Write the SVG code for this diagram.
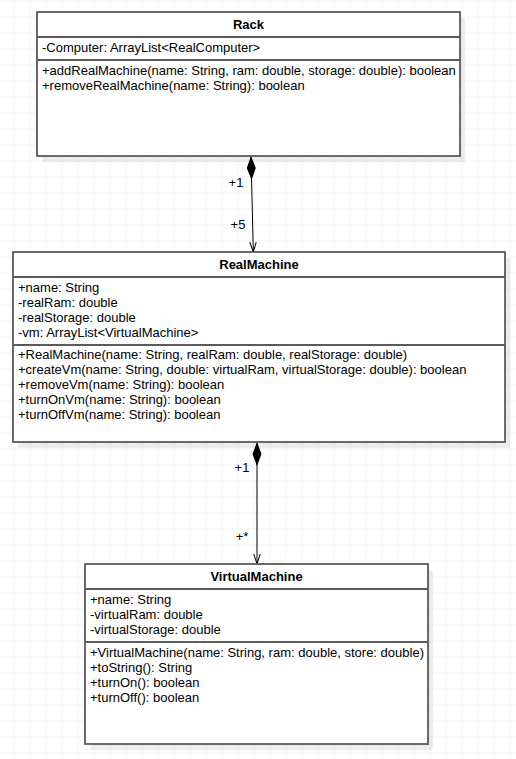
<svg xmlns="http://www.w3.org/2000/svg" width="516" height="759" viewBox="0 0 516 759">
<style>
text{font-family:"Liberation Sans",Arial,sans-serif;font-size:13px;fill:#000}
.t{font-weight:bold;text-anchor:middle}
.box{fill:#fff;stroke:#5a5a5a;stroke-width:1.8}
.sh{fill:#000;opacity:0.07}
.sep{stroke:#5a5a5a;stroke-width:1.8}
.c{stroke:#000;stroke-width:1;fill:none}
</style>
<defs>
<pattern id="grid" x="13.5" y="0.5" width="16" height="16" patternUnits="userSpaceOnUse">
<path d="M16 0H0V16" fill="none" stroke="#ebebeb" stroke-width="1"/>
</pattern>
<marker id="dia" viewBox="0 0 24 10" refX="0" refY="5" markerWidth="24" markerHeight="10" markerUnits="userSpaceOnUse" orient="auto">
<path d="M0 5L12 0.5L24 5L12 9.5Z" fill="#000"/>
</marker>
<marker id="open" viewBox="0 0 10 8" refX="10" refY="4" markerWidth="10" markerHeight="8" markerUnits="userSpaceOnUse" orient="auto">
<path d="M0 0.8L10 4L0 7.2" fill="none" stroke="#000" stroke-width="1"/>
</marker>
</defs>
<rect width="516" height="759" fill="#fff"/>
<rect width="516" height="759" fill="url(#grid)"/>

<g id="connectors">
<path class="c" d="M251 156L253.3 252" marker-start="url(#dia)" marker-end="url(#open)"/>
<text x="236" y="187" text-anchor="middle">+1</text>
<text x="238" y="229" text-anchor="middle">+5</text>
<path class="c" d="M257 442L257 564" marker-start="url(#dia)" marker-end="url(#open)"/>
<text x="242" y="472" text-anchor="middle">+1</text>
<text x="242" y="541" text-anchor="middle">+*</text>
</g>

<g id="Rack">
<rect class="sh" x="42" y="18" width="423" height="144"/>
<rect class="box" x="37" y="12" width="423" height="144"/>
<line class="sep" x1="37" y1="37" x2="460" y2="37"/>
<line class="sep" x1="37" y1="60" x2="460" y2="60"/>
<text class="t" x="248.5" y="29">Rack</text>
<text x="42" y="52">-Computer: ArrayList&lt;RealComputer&gt;</text>
<text x="42" y="75">+addRealMachine(name: String, ram: double, storage: double): boolean</text>
<text x="42" y="90">+removeRealMachine(name: String): boolean</text>
</g>

<g id="RealMachine">
<rect class="sh" x="18" y="258" width="492" height="190"/>
<rect class="box" x="13" y="252" width="492" height="190"/>
<line class="sep" x1="13" y1="277" x2="505" y2="277"/>
<line class="sep" x1="13" y1="345" x2="505" y2="345"/>
<text class="t" x="259" y="269">RealMachine</text>
<text x="18" y="292">+name: String</text>
<text x="18" y="307">-realRam: double</text>
<text x="18" y="322">-realStorage: double</text>
<text x="18" y="337">-vm: ArrayList&lt;VirtualMachine&gt;</text>
<text x="18" y="359">+RealMachine(name: String, realRam: double, realStorage: double)</text>
<text x="18" y="374">+createVm(name: String, double: virtualRam, virtualStorage: double): boolean</text>
<text x="18" y="389">+removeVm(name: String): boolean</text>
<text x="18" y="404">+turnOnVm(name: String): boolean</text>
<text x="18" y="419">+turnOffVm(name: String): boolean</text>
</g>

<g id="VirtualMachine">
<rect class="sh" x="90" y="570" width="343" height="180"/>
<rect class="box" x="85" y="564" width="343" height="180"/>
<line class="sep" x1="85" y1="589" x2="428" y2="589"/>
<line class="sep" x1="85" y1="642" x2="428" y2="642"/>
<text class="t" x="256.5" y="581">VirtualMachine</text>
<text x="90" y="604">+name: String</text>
<text x="90" y="619">-virtualRam: double</text>
<text x="90" y="634">-virtualStorage: double</text>
<text x="90" y="657">+VirtualMachine(name: String, ram: double, store: double)</text>
<text x="90" y="672">+toString(): String</text>
<text x="90" y="687">+turnOn(): boolean</text>
<text x="90" y="702">+turnOff(): boolean</text>
</g>
</svg>
